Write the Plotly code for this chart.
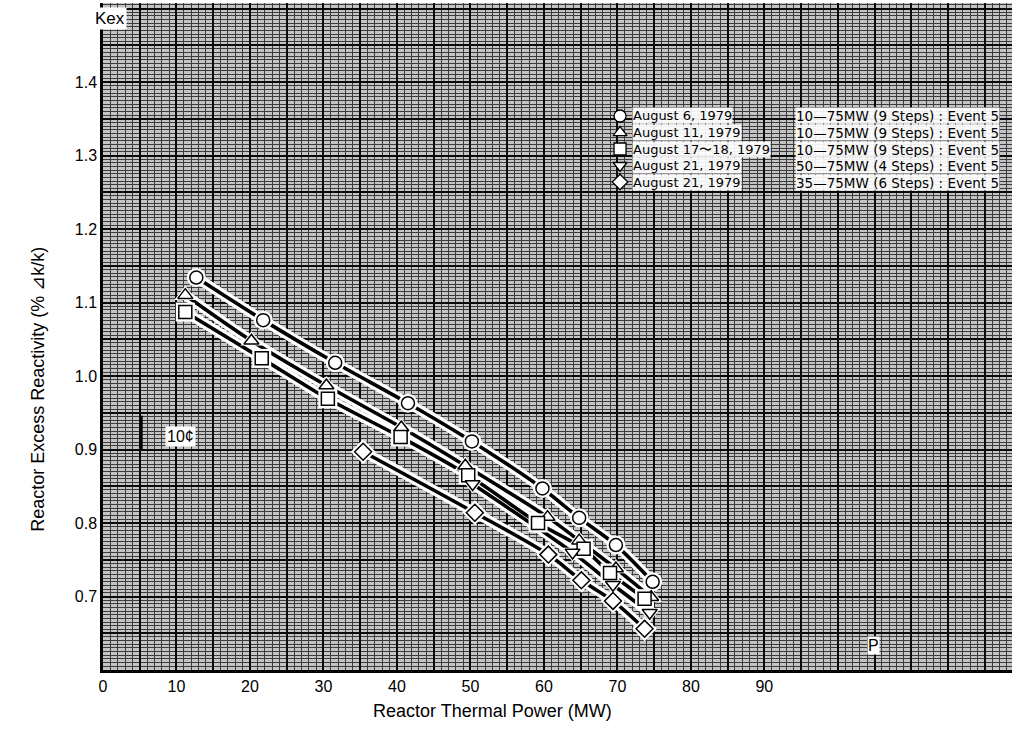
import plotly.graph_objects as go

# Measured excess reactivity (% dk/k) against reactor thermal power (MW)
power_aug06 = [12.7, 21.8, 31.6, 41.5, 50.2, 59.8, 64.8, 69.8, 74.8]
kex_aug06 = [1.134, 1.076, 1.018, 0.963, 0.911, 0.847, 0.807, 0.770, 0.720]

power_aug11 = [11.2, 20.2, 30.4, 40.6, 49.3, 60.5, 64.8, 69.8, 74.6]
kex_aug11 = [1.110, 1.048, 0.987, 0.930, 0.878, 0.808, 0.776, 0.738, 0.699]

power_aug17 = [11.2, 21.6, 30.6, 40.5, 49.7, 59.2, 65.4, 69.0, 73.7]
kex_aug17 = [1.087, 1.024, 0.969, 0.917, 0.865, 0.800, 0.765, 0.732, 0.697]

power_aug21a = [50.3, 63.9, 69.4, 74.4]
kex_aug21a = [0.853, 0.760, 0.716, 0.678]

power_aug21b = [35.4, 50.6, 60.6, 65.1, 69.4, 73.7]
kex_aug21b = [0.897, 0.814, 0.757, 0.722, 0.694, 0.656]

run_dates = ["August 6, 1979", "August 11, 1979", "August 17\u301c18, 1979",
             "August 21, 1979", "August 21, 1979"]
run_ranges = ["10\u201475MW (9 Steps) : Event 5", "10\u201475MW (9 Steps) : Event 5",
              "10\u201475MW (9 Steps) : Event 5", "50\u201475MW (4 Steps) : Event 5",
              "35\u201475MW (6 Steps) : Event 5"]
run_symbols = ["circle", "triangle-up", "square", "triangle-down", "diamond"]

x_tick_labels = ["0", "10", "20", "30", "40", "50", "60", "70", "80", "90"]
y_tick_labels = ["0.7", "0.8", "0.9", "1.0", "1.1", "1.2", "1.3", "1.4"]

FONT = "Liberation Sans, Arial, Helvetica, sans-serif"
KEY_FONT = "DejaVu Sans, Liberation Sans, sans-serif"

series = [
    (power_aug06, kex_aug06),
    (power_aug11, kex_aug11),
    (power_aug17, kex_aug17),
    (power_aug21a, kex_aug21a),
    (power_aug21b, kex_aug21b),
]

fig = go.Figure()

# white halo under each curve, then the curve itself
for (px, ky) in series:
    fig.add_trace(go.Scatter(x=px, y=ky, mode="lines",
                             line=dict(color="white", width=10, shape="spline", smoothing=0.8),
                             hoverinfo="skip", showlegend=False))
for (px, ky) in series:
    fig.add_trace(go.Scatter(x=px, y=ky, mode="lines",
                             line=dict(color="black", width=3.6, shape="spline", smoothing=0.8),
                             hoverinfo="skip", showlegend=False))
# markers with a white ring around them
for (px, ky), sym in zip(series, run_symbols):
    fig.add_trace(go.Scatter(x=px, y=ky, mode="markers",
                             marker=dict(symbol=sym, size=19, color="white",
                                         line=dict(width=0)),
                             hoverinfo="skip", showlegend=False))
for (px, ky), sym, d in zip(series, run_symbols, run_dates):
    fig.add_trace(go.Scatter(x=px, y=ky, mode="markers", name=d,
                             marker=dict(symbol=sym, size=13, color="white",
                                         line=dict(color="black", width=1.5)),
                             showlegend=False))

# key markers of the legend block, placed on an overlay axis in plot fractions
key_x = 0.5688
key_rows = [0.8306, 0.8058, 0.7811, 0.7564, 0.7316]
fig.add_trace(go.Scatter(x=[key_x] * len(run_symbols), y=key_rows, mode="markers",
                         xaxis="x2", yaxis="y2",
                         marker=dict(symbol=run_symbols, size=12, color="white",
                                     line=dict(color="black", width=1.3)),
                         hoverinfo="skip", showlegend=False))

annotations = []
for i, (d, r) in enumerate(zip(run_dates, run_ranges)):
    annotations.append(dict(xref="paper", yref="paper", x=0.582, y=key_rows[i],
                            xanchor="left", yanchor="middle", text=d, showarrow=False,
                            bgcolor="rgba(255,255,255,0.92)", borderpad=0, height=15,
                            font=dict(family=KEY_FONT, size=13, color="black")))
    annotations.append(dict(xref="paper", yref="paper", x=0.761, y=key_rows[i],
                            xanchor="left", yanchor="middle", text=r, showarrow=False,
                            bgcolor="rgba(255,255,255,0.92)", borderpad=0, height=15,
                            font=dict(family=KEY_FONT, size=13.5, color="black")))

annotations += [
    dict(xref="x", yref="y", x=10.6, y=0.918, text="10\u00a2", showarrow=False,
         bgcolor="white", borderpad=1, font=dict(family=FONT, size=16, color="black")),
    dict(xref="x", yref="y", x=1.0, y=1.486, text="Kex", showarrow=False,
         bgcolor="white", borderpad=1, font=dict(family=FONT, size=17, color="black")),
    dict(xref="x", yref="y", x=104.9, y=0.634, text="P", showarrow=False,
         bgcolor="white", borderpad=0, font=dict(family=FONT, size=16, color="black")),
    # axis titles
    dict(xref="paper", yref="paper", x=0.428, y=-0.0615, text="Reactor Thermal Power (MW)",
         showarrow=False, xanchor="center", yanchor="middle",
         font=dict(family=FONT, size=18, color="black")),
    dict(xref="paper", yref="paper", x=-0.0715, y=0.42,
         text="Reactor Excess Reactivity (% \u22bfk/k)", textangle=-90,
         showarrow=False, xanchor="center", yanchor="middle",
         font=dict(family=FONT, size=18, color="black")),
]

shapes = [
    # 10 cent scale bar
    dict(type="line", xref="x", yref="y", x0=5.2, x1=5.2, y0=0.9, y1=0.946,
         line=dict(color="black", width=3)),
]

x_tickvals = list(range(0, 125, 5))
x_ticktext = [x_tick_labels[v // 10] if (v % 10 == 0 and v // 10 < len(x_tick_labels)) else ""
              for v in x_tickvals]
y_tickvals = [round(0.6 + 0.05 * i, 2) for i in range(19)]
y_ticktext = []
for v in y_tickvals:
    lbl = f"{v:.1f}"
    y_ticktext.append(lbl if (abs(v * 10 - round(v * 10)) < 1e-6 and lbl in y_tick_labels) else "")

fig.update_layout(
    width=1012, height=744,
    margin=dict(l=103, r=0, t=3, b=74),
    paper_bgcolor="white",
    plot_bgcolor="#c4c4c4",
    font=dict(family=FONT, color="black"),
    annotations=annotations,
    shapes=shapes,
    xaxis=dict(range=[0, 123.7], tickmode="array", tickvals=x_tickvals, ticktext=x_ticktext,
               showgrid=True, gridcolor="#0a0a0a", gridwidth=1.8, zeroline=False,
               showline=True, linecolor="black", linewidth=2.5, ticks="",
               tickfont=dict(family=FONT, size=16),
               minor=dict(tick0=0, dtick=1, showgrid=True, gridcolor="#3c3c3c", gridwidth=1)),
    yaxis=dict(range=[0.6, 1.5075], tickmode="array", tickvals=y_tickvals, ticktext=y_ticktext,
               showgrid=True, gridcolor="#0a0a0a", gridwidth=1.8, zeroline=False,
               showline=True, linecolor="black", linewidth=2.5, ticks="",
               tickfont=dict(family=FONT, size=16),
               minor=dict(tick0=0.6, dtick=0.005, showgrid=True, gridcolor="#3a3a3a", gridwidth=1)),
    xaxis2=dict(overlaying="x", range=[0, 1], visible=False, fixedrange=True),
    yaxis2=dict(overlaying="y", range=[0, 1], visible=False, fixedrange=True),
)

fig.write_html("out.html")
